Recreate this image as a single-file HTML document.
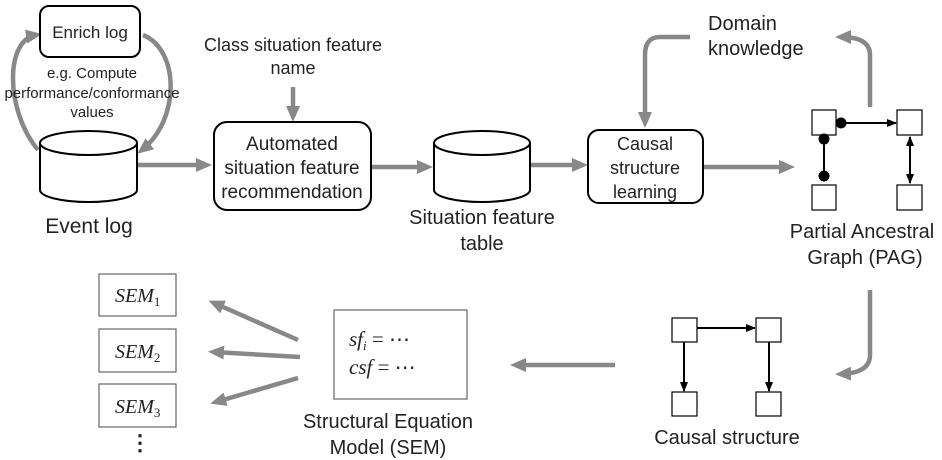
<!DOCTYPE html>
<html><head><style>body{margin:0;background:#fff}svg{display:block}text{font-family:"Liberation Sans",sans-serif;fill:#222}</style></head><body>
<svg width="942" height="460" viewBox="0 0 942 460">
<defs>
<marker id="g" markerWidth="16" markerHeight="14" refX="10" refY="7" orient="auto" markerUnits="userSpaceOnUse"><path d="M0,0L16,7L0,14z" fill="#888"/></marker>
<marker id="b" markerWidth="10" markerHeight="8" refX="9" refY="4" orient="auto" markerUnits="userSpaceOnUse"><path d="M0,0L10,4L0,8z" fill="#000"/></marker>
<marker id="bs" markerWidth="10" markerHeight="8" refX="1" refY="4" orient="auto" markerUnits="userSpaceOnUse"><path d="M10,0L0,4L10,8z" fill="#000"/></marker>
</defs>
<g fill="none" stroke="#888" stroke-width="4.5">
<path d="M38,150 C5,110 5,40 36,35" marker-end="url(#g)"/>
<path d="M143,35 C180,50 180,120 142,150" marker-end="url(#g)"/>
<path d="M293,87 L293,116" marker-end="url(#g)"/>
<path d="M137,165 L206,165" marker-end="url(#g)"/>
<path d="M371,167 L427,167" marker-end="url(#g)"/>
<path d="M530,165 L582,165" marker-end="url(#g)"/>
<path d="M703,167 L789,167" marker-end="url(#g)"/>
<path d="M690,37 L660,37 Q645,37 645,55 L645,122" marker-end="url(#g)"/>
<path d="M870,107 L870,55 Q870,37 841,37" marker-end="url(#g)"/>
<path d="M870,290 L870,355 Q870,373 841,374" marker-end="url(#g)"/>
<path d="M615,365 L516,365" marker-end="url(#g)"/>
<path d="M298,340 L214,303" marker-end="url(#g)"/>
<path d="M300,357 L214,352" marker-end="url(#g)"/>
<path d="M298,378 L216,402" marker-end="url(#g)"/>
</g>
<g fill="#fff" stroke="#000" stroke-width="2">
<rect x="40" y="6" width="100" height="51" rx="9"/>
<path d="M40,143 L40,190 A48.5,12 0 0 0 137,190 L137,143"/>
<ellipse cx="88.5" cy="143" rx="48.5" ry="12"/>
<rect x="214" y="122" width="157" height="88" rx="13"/>
<path d="M434,143 L434,190 A48,12 0 0 0 530,190 L530,143"/>
<ellipse cx="482" cy="143" rx="48" ry="12"/>
<rect x="588" y="130" width="115" height="73" rx="11"/>
</g>
<g fill="#fff" stroke="#000" stroke-width="1.2">
<rect x="812" y="110" width="24" height="25"/><rect x="897" y="110" width="25" height="25"/>
<rect x="812" y="185" width="24" height="25"/><rect x="897" y="185" width="25" height="25"/>
<rect x="672" y="318" width="25" height="24"/><rect x="756" y="318" width="25" height="24"/>
<rect x="672" y="392" width="25" height="24"/><rect x="756" y="392" width="25" height="24"/>
<rect x="334" y="310" width="133" height="89" stroke="#666"/>
<rect x="99" y="274" width="77" height="42" stroke="#666"/>
<rect x="99" y="329" width="77" height="43" stroke="#666"/>
<rect x="99" y="384" width="77" height="43" stroke="#666"/>
</g>
<g stroke="#000" stroke-width="2" fill="none">
<path d="M840,123 L896,123" marker-end="url(#b)"/>
<path d="M824,140 L824,175"/>
<path d="M910,137 L910,183" marker-end="url(#b)" marker-start="url(#bs)"/>
<path d="M697,328 L755,328" marker-end="url(#b)"/>
<path d="M684,342 L684,391" marker-end="url(#b)"/>
<path d="M769,342 L769,391" marker-end="url(#b)"/>
</g>
<g fill="#000"><circle cx="841" cy="123" r="5.5"/><circle cx="824" cy="139" r="5.5"/><circle cx="824" cy="176" r="5.5"/></g>
<g text-anchor="middle">
<text x="90" y="38" font-size="17">Enrich log</text>
<text x="92" y="78" font-size="15">e.g. Compute</text>
<text x="92" y="98" font-size="15">performance/conformance</text>
<text x="92" y="117" font-size="15">values</text>
<text x="89" y="233" font-size="21">Event log</text>
<text x="293" y="51" font-size="18">Class situation feature</text>
<text x="293" y="74" font-size="18">name</text>
<text x="292" y="150" font-size="19">Automated</text>
<text x="292" y="174" font-size="19">situation feature</text>
<text x="292" y="198" font-size="19">recommendation</text>
<text x="482" y="224" font-size="20">Situation feature</text>
<text x="482" y="250" font-size="20">table</text>
<text x="645" y="150" font-size="18">Causal</text>
<text x="645" y="174" font-size="18">structure</text>
<text x="645" y="198" font-size="18">learning</text>
<text x="862" y="238" font-size="20">Partial Ancestral</text>
<text x="865" y="264" font-size="20">Graph (PAG)</text>
<text x="727" y="444" font-size="20">Causal structure</text>
<text x="388" y="428" font-size="20">Structural Equation</text>
<text x="388" y="454" font-size="20">Model (SEM)</text>
</g>
<text x="708" y="30" font-size="20">Domain</text>
<text x="708" y="55" font-size="20">knowledge</text>
<g font-style="italic" font-size="20">
<text x="115" y="302" style="font-family:'Liberation Serif',serif">SEM<tspan font-size="13" dy="4" font-style="normal">1</tspan></text>
<text x="115" y="358" style="font-family:'Liberation Serif',serif">SEM<tspan font-size="13" dy="4" font-style="normal">2</tspan></text>
<text x="115" y="413" style="font-family:'Liberation Serif',serif">SEM<tspan font-size="13" dy="4" font-style="normal">3</tspan></text>
<text x="349" y="346" font-size="21" style="font-family:'Liberation Serif',serif">sf<tspan font-size="13" dy="4">i</tspan><tspan dy="-4" font-style="normal"> =  ⋯</tspan></text>
<text x="349" y="374" font-size="21" style="font-family:'Liberation Serif',serif">csf<tspan font-style="normal"> =  ⋯</tspan></text>
</g>
<text x="140" y="450" font-size="22" text-anchor="middle" font-weight="bold">⋮</text>
</svg>
</body></html>
